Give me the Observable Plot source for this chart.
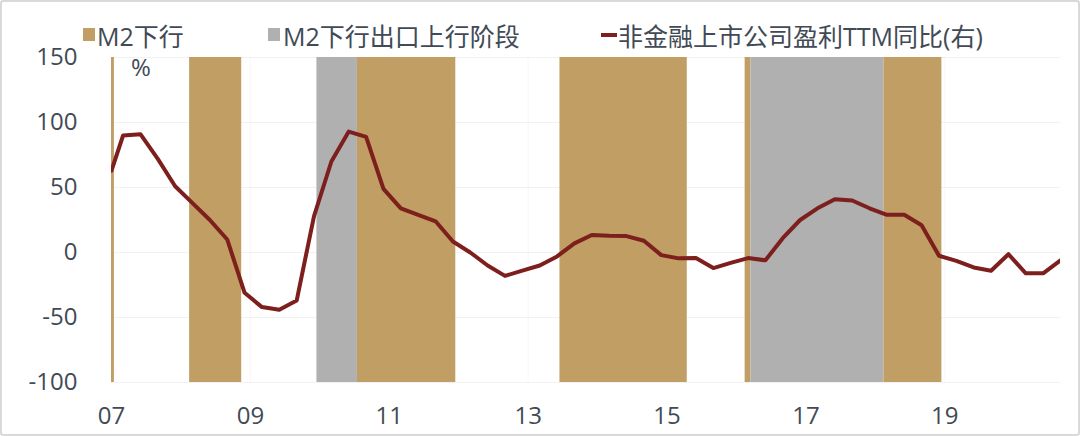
<!DOCTYPE html>
<html><head><meta charset="utf-8">
<script src="https://cdn.jsdelivr.net/npm/d3@7"></script>
<script src="https://cdn.jsdelivr.net/npm/@observablehq/plot@0.6"></script>
<style>
body{margin:0;background:#fff;}
#wrap{position:relative;width:1080px;height:436px;overflow:hidden;font-family:"Open Sans","Noto Sans CJK SC",sans-serif;color:#414a55;background:#fff;}
#border{position:absolute;left:0;top:0;width:1080px;height:436px;border:2px solid #d9d9d9;border-radius:3px;box-sizing:border-box;pointer-events:none;}
#legend{position:relative;height:46px;}
.item{position:absolute;top:21px;height:30px;line-height:30px;font-size:25px;white-space:nowrap;}
.sw{position:absolute;}
#unit{position:absolute;left:131px;top:52px;font-size:24px;line-height:30px;}
#chart{position:absolute;left:0;top:46px;}
</style></head>
<body>
<div id="wrap">
  <div id="legend"></div>
  <div id="chart"></div>
  <div id="unit"></div>
  <div id="border"></div>
</div>
<script>
// ---- data ----
const lineDates = ["2007-01","2007-03","2007-06","2007-09","2007-12",
  "2008-03","2008-06","2008-09","2008-12",
  "2009-03","2009-06","2009-09","2009-12",
  "2010-03","2010-06","2010-09","2010-12",
  "2011-03","2011-06","2011-09","2011-12",
  "2012-03","2012-06","2012-09","2012-12",
  "2013-03","2013-06","2013-09","2013-12",
  "2014-03","2014-06","2014-09","2014-12",
  "2015-03","2015-06","2015-09","2015-12",
  "2016-03","2016-06","2016-09","2016-12",
  "2017-03","2017-06","2017-09","2017-12",
  "2018-03","2018-06","2018-09","2018-12",
  "2019-03","2019-06","2019-09","2019-12",
  "2020-03","2020-06","2020-09"];
const profitYoY = [63,90,91,72,51,
  38,25,10,-31,
  -42,-44,-37,28,
  70,93,89,49,
  34,29,24,8.5,
  0,-10,-18,-14,
  -10,-3,7,13.5,
  12.8,12.6,9,-2,
  -4.5,-4.3,-12,-8,
  -4.3,-6,11,25,
  34,41,40,34,
  29,29,21,-2.5,
  -6.4,-11.5,-14,-1.3,
  -16,-16,-6];
const phaseLabels = ["M2下行","M2下行出口上行阶段"];
const phaseColors = ["#c09e64","#b0b0b0"];
const phaseType  = ["M2下行","M2下行","M2下行出口上行阶段","M2下行","M2下行","M2下行","M2下行出口上行阶段","M2下行"];
const phaseStart = ["2007-01","2008-03","2010-01","2010-08","2013-07","2016-03","2016-04","2018-03"];
const phaseEnd   = ["2007-01","2008-11","2010-07","2011-12","2015-04","2016-03","2018-02","2018-12"];
const seriesName = "非金融上市公司盈利TTM同比(右)";
const lineColor = "#7d1f1d";
const yTicks = [-100,-50,0,50,100,150];
const xTickYears = [2007,2009,2011,2013,2015,2017,2019];
const xTickLabels = ["07","09","11","13","15","17","19"];
const unitLabel = "%";
const xStart = "2007-01", xEnd = "2020-09";

// ---- helpers ----
const toPos = s => { const [y,m] = s.split("-").map(Number); return y + (m-1)/12; };
const lineData = lineDates.map((d,i)=>({x: toPos(d), v: profitYoY[i]}));
const phases = phaseType.map((t,i)=>({type:t, x1: toPos(phaseStart[i]) - 0.5/12, x2: toPos(phaseEnd[i]) + 0.5/12}));

// ---- legend ----
const legend = document.getElementById("legend");
const legendPos = [{sw:83, tx:97}, {sw:268, tx:283}];
phaseLabels.forEach((lab,i)=>{
  const s = document.createElement("div");
  s.className="sw";
  s.style.cssText = `left:${legendPos[i].sw}px;top:28px;width:12px;height:13px;background:${phaseColors[i]};`;
  legend.appendChild(s);
  const t = document.createElement("div");
  t.className="item"; t.style.left = legendPos[i].tx+"px"; t.textContent = lab;
  legend.appendChild(t);
});
{
  const s = document.createElement("div");
  s.className="sw";
  s.style.cssText = `left:601px;top:33px;width:16px;height:4px;background:${lineColor};`;
  legend.appendChild(s);
  const t = document.createElement("div");
  t.className="item"; t.style.left = "618px"; t.textContent = seriesName;
  legend.appendChild(t);
}
document.getElementById("unit").textContent = unitLabel;

// ---- chart ----
const chart = Plot.plot({
  width: 1080, height: 390,
  marginLeft: 111, marginRight: 20, marginTop: 11, marginBottom: 54,
  style: {fontSize: "24px", fontFamily: '"Open Sans","Noto Sans CJK SC",sans-serif', color: "#414a55", background: "transparent", overflow: "visible"},
  x: {type: "linear", domain: [toPos(xStart), toPos(xEnd)]},
  y: {domain: [-100, 150]},
  color: {domain: phaseLabels, range: phaseColors},
  marks: [
    Plot.gridY(yTicks, {stroke: "#000", strokeOpacity: 0.05}),
    Plot.gridX(xTickYears, {stroke: "#000", strokeOpacity: 0.03}),
    Plot.rect(phases, {x1: "x1", x2: "x2", y1: -100, y2: 150, fill: "type", clip: true}),
    Plot.line(lineData, {x: "x", y: "v", stroke: lineColor, strokeWidth: 4, strokeLinejoin: "round", clip: true}),
    Plot.axisY(yTicks, {tickSize: 0, tickPadding: 34, label: null, tickFormat: d => String(d)}),
    Plot.axisX(xTickYears, {tickSize: 0, tickPadding: 24, label: null, tickFormat: d => xTickLabels[xTickYears.indexOf(d)]})
  ]
});
document.getElementById("chart").appendChild(chart);
</script>
</body></html>
